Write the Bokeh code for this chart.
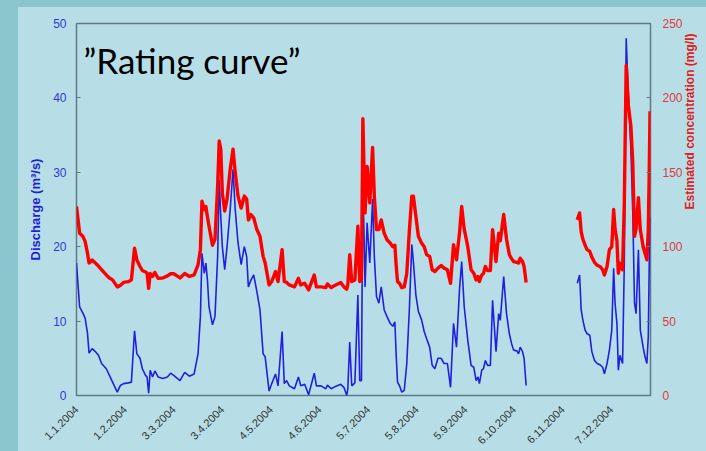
import math
from bokeh.plotting import figure
from bokeh.models import Range1d, LinearAxis, Label, FixedTicker, ColumnDataSource
from bokeh.embed import file_html
from bokeh.resources import INLINE

NaN = float("nan")

# Day of year 2004 (0 = 1.1.2004) for each reading
days = [
    0, 2, 4, 5.5, 7, 8, 10, 12, 14, 16, 19, 21, 23, 26, 28, 30, 33, 35, 37, 38.5,
    40.5, 42, 44, 45, 46, 47, 48.5, 50, 52, 55, 58, 60,
    62, 66, 69, 72, 75, 77.5, 79, 80, 81.5, 82.5, 83.5, 84.5, 86.7, 88.3, 90, 91, 92, 93, 94.5, 96,
    98, 99.8, 101.2, 103, 105, 107, 108.5, 109.6, 111.2, 113, 115, 117, 119, 120.3, 122.8,
    124.5, 126.9, 128.5, 131.1, 132.5, 134, 135.7, 139, 141.5, 143, 145.5, 148, 151.6, 153, 156, 159,
    160, 162.4, 164, 168.5, 170.5, 172.3, 173, 174.2, 175.5, 177.5, 179.4, 180.6, 181.7,
    182.6, 184, 185.3, 187, 188.8, 189.9, 191.3, 192.8, 194.3, 196.2, 198, 200, 201.7, 203, 203.8,
    204.7, 206, 207.4, 209, 210.6, 212.3, 213.8, 214.8, 216.4, 218, 220, 221.7, 223.3, 225.2, 226.8,
    228.5, 230.5, 232.5, 234.4, 236.5, 238.5, 240.4, 242.3, 244.2, 245.6, 247.2,
    249.5, 251.6, 253.3, 254.8, 256, 256.9, 258.4, 259.5, 260.7, 262.1, 263.9, 265.3, 267.5, 269.2,
    270.2, 272.4, 274.2, 276, 277.4, 278.7, 280.8, 281.9, 282.9, 284.4, 285.4, 286.7,
    300,
    319.3, 320.8, 321.8, 322.9, 324.3, 325.6, 327.3, 328.6, 330.3, 332, 334, 335.5, 336.6, 338.3,
    339.8, 341.3, 342.5, 343.4, 344.6, 345.5, 346.5, 348.2, 349.3, 350.5, 351.9, 353.5, 354.7,
    355.8, 356.8, 358.3, 359.5, 361.3, 362.4, 363.7, 364.6, 365.2, 365.7,
]

# Discharge (m3/s)
discharge = [
    17.8, 11.9, 11.1, 10.4, 8.4, 5.7, 6.3, 5.9, 5.4, 4.3, 3.6, 2.7, 1.8, 0.45, 1.35, 1.6, 1.7, 1.8, 8.7, 5.6,
    5.0, 3.6, 2.7, 2.5, 0.3, 3.4, 2.5, 3.3, 2.5, 2.3, 2.5, 3.0,
    2.7, 2.0, 3.1, 2.6, 2.9, 5.6, 10.6, 19.1, 16.4, 17.8, 15.5, 11.9, 9.5, 10.6, 18.7, 29.0, 24.0, 20, 16.9, 20,
    25, 30.4, 25, 20.5, 17.6, 20.0, 18.7, 14.6, 15.5, 16.2, 14, 11.5, 5.6, 5.2, 0.6,
    1.6, 2.9, 1.3, 8.6, 1.6, 2.0, 1.3, 0.9, 2.5, 1.3, 1.5, 0.1, 3.0, 1.3, 1.3, 0.9,
    1.4, 0.9, 1.1, 1.5, 1.1, 0.0, 0.9, 7.2, 1.3, 1.7, 13.5, 2.0, 2.0,
    29, 14.6, 23.2, 17.8, 26.4, 18.7, 13.3, 12.4, 14.6, 11.5, 10.6, 9.7, 9.3, 9.9, 5.6,
    1.8, 1.3, 0.45, 0.7, 4.3, 11.9, 20.3, 18, 13.5, 11.3, 10.2, 8.6, 7.6, 6.5, 4.05,
    3.6, 5.0, 5.0, 4.3, 4.3, 1.1, 9.7, 6.5, 14.2, 18.0, 12,
    7.4, 4.05, 3.8, 2.0, 2.5, 1.6, 3.4, 3.6, 4.7, 4.05, 4.05, 12.8, 5.9, 11.0,
    10.1, 16.0, 11.0, 8.3, 7.0, 6.1, 6.0, 5.6, 6.5, 5.9, 5.0, 1.35,
    NaN,
    15.1, 16.2, 11.5, 10.1, 8.8, 8.3, 8.1, 5.9, 4.7, 4.3, 4.1, 3.8, 2.9, 4.3,
    6.1, 8.8, 17.1, 12.4, 9.7, 3.4, 5.4, 4.3, 17.8, 48, 40.3, 33.1, 24.6,
    12.4, 11.0, 19.6, 8.8, 6.5, 5.3, 4.3, 8.0, 17.8, 24,
]

# Estimated concentration (mg/l), rating curve
concentration = [
    127, 109, 107, 103.6, 95.7, 89, 91, 89, 87, 84.5, 81, 79, 77.7, 73, 74, 76, 76.5, 77.7, 99, 91,
    86.7, 84, 83, 82.2, 72, 82, 80, 82.7, 78.8, 79, 80.4, 81.8,
    81.8, 79, 82, 80, 81, 87.8, 98, 130.6, 125, 127, 120, 113.7, 101, 105, 140.7, 171, 165.5, 136, 124, 132,
    152, 165.5, 150, 134, 126, 134, 132, 118, 121.6, 119.4, 111.5, 107, 93.5, 89, 74.3,
    76.6, 83.3, 76.6, 98, 76.6, 76, 74.3, 73, 78.8, 74.3, 75.4, 71, 81, 73, 73, 72.5,
    75, 72.5, 73.6, 76, 73, 71.4, 74.3, 94.6, 76.6, 77.7, 113.7, 76.6, 77.7,
    186, 122.7, 154, 129.5, 166.7, 134, 111.5, 111.5, 118, 109, 104.7, 102.5, 100, 101, 88,
    76.5, 75.4, 72.5, 73, 82.2, 111.5, 134, 134, 120.5, 107, 102.5, 100, 94.6, 93.5, 84.5,
    83.3, 85.6, 87.4, 85.6, 84.5, 75.4, 101.4, 91.2, 109, 127, 112,
    100, 84.5, 82.2, 77.7, 80, 76.6, 81, 82, 86.7, 84, 84, 111.5, 90, 109,
    104, 121.6, 105, 94.6, 92, 90, 89.4, 89, 92.3, 90, 86.7, 76,
    NaN,
    118, 122.7, 110, 105, 101, 98, 96.8, 93, 89.5, 87.5, 86.5, 84.5, 81, 86.7,
    98, 100, 125, 112, 104, 82.2, 89, 84.5, 129.5, 221.8, 194.8, 181, 156.5,
    107, 112, 133, 111.5, 100, 96, 91.2, 111.5, 150, 191,
]

assert len(days) == len(discharge) == len(concentration)

tick_days = [0, 31, 62, 93, 124, 155, 186, 217, 248, 279, 310, 341]
tick_labels = ["1.1.2004", "1.2.2004", "3.3.2004", "3.4.2004", "4.5.2004", "4.6.2004",
               "5.7.2004", "5.8.2004", "5.9.2004", "6.10.2004", "6.11.2004", "7.12.2004"]
left_ticks = [0, 10, 20, 30, 40, 50]
right_ticks = [0, 50, 100, 150, 200, 250]

title_text = "\u201dRating curve\u201d"
left_label = "Discharge (m\u00b3/s)"
right_label = "Estimated concentration (mg/l)"

OUTER = "#8bc5cd"
INNER = "#b7dee7"
FRAME = "#5e7b84"
BLUE = "#2020dd"
RED = "#ff0000"

src = ColumnDataSource(data=dict(day=days, q=discharge, c=concentration))

p = figure(width=706, height=451, output_backend="svg", toolbar_location=None,
           x_range=Range1d(0, 366), y_range=Range1d(0, 50),
           min_border_left=76, min_border_right=53, min_border_top=23, min_border_bottom=56)
p.border_fill_alpha = 0
p.background_fill_alpha = 0
p.outline_line_color = FRAME
p.outline_line_width = 1.5
p.grid.visible = False
p.extra_y_ranges = {"conc": Range1d(0, 250)}

p.line("day", "q", source=src, line_color=BLUE, line_width=1.6)
p.line("day", "c", source=src, y_range_name="conc", line_color=RED, line_width=3.4,
       line_join="round")

# x axis
xa = p.xaxis[0]
xa.ticker = FixedTicker(ticks=tick_days)
xa.major_label_overrides = {d: l for d, l in zip(tick_days, tick_labels)}
xa.major_label_orientation = math.pi / 4
xa.major_tick_line_color = None
xa.minor_tick_line_color = None
xa.axis_line_color = None
xa.major_label_text_font = "Liberation Sans"
xa.major_label_text_font_size = "11px"
xa.major_label_text_color = "#333333"
xa.major_label_standoff = 6

# left axis
ya = p.yaxis[0]
ya.ticker = FixedTicker(ticks=left_ticks)
ya.major_tick_in = 4
ya.major_tick_out = 0
ya.major_tick_line_color = FRAME
ya.minor_tick_line_color = None
ya.axis_line_color = None
ya.major_label_text_font = "Liberation Sans"
ya.major_label_text_font_size = "12px"
ya.major_label_text_color = "#3535d0"
ya.major_label_standoff = 10
ya.axis_label = left_label
ya.axis_label_text_font = "Liberation Sans"
ya.axis_label_text_font_style = "bold"
ya.axis_label_text_font_size = "13px"
ya.axis_label_text_color = "#1f1fd6"
ya.axis_label_standoff = 7

# right axis
ra = LinearAxis(y_range_name="conc", ticker=FixedTicker(ticks=right_ticks))
ra.major_tick_in = 4
ra.major_tick_out = 0
ra.major_tick_line_color = FRAME
ra.minor_tick_line_color = None
ra.axis_line_color = None
ra.major_label_text_font = "Liberation Sans"
ra.major_label_text_font_size = "12px"
ra.major_label_text_color = "#e03a3a"
ra.major_label_standoff = 12
ra.axis_label = right_label
ra.axis_label_text_font = "Liberation Sans"
ra.axis_label_text_font_style = "bold"
ra.axis_label_text_font_size = "12px"
ra.axis_label_text_color = "#e02020"
ra.axis_label_standoff = 4
if "axis_label_orientation" in ra.properties():
    ra.axis_label_orientation = math.pi / 2
p.add_layout(ra, "right")

p.add_layout(Label(x=7, y=336, x_units="screen", y_units="screen", text=title_text,
                   text_font="Lato", text_font_size="35px", text_color="#000000",
                   text_align="left", text_baseline="alphabetic"))

html = file_html(p, INLINE, title="Rating curve")
style = ("<style>html{min-height:100%;background:"
         f"linear-gradient({OUTER},{OUTER}) 0 0/18px 100% no-repeat,"
         f"linear-gradient({OUTER},{OUTER}) 0 0/100% 7px no-repeat,{INNER} !important;}}"
         "body{background:transparent !important;}</style>")
html = html.replace("</head>", style + "</head>", 1)
open("out.html", "w").write(html)
